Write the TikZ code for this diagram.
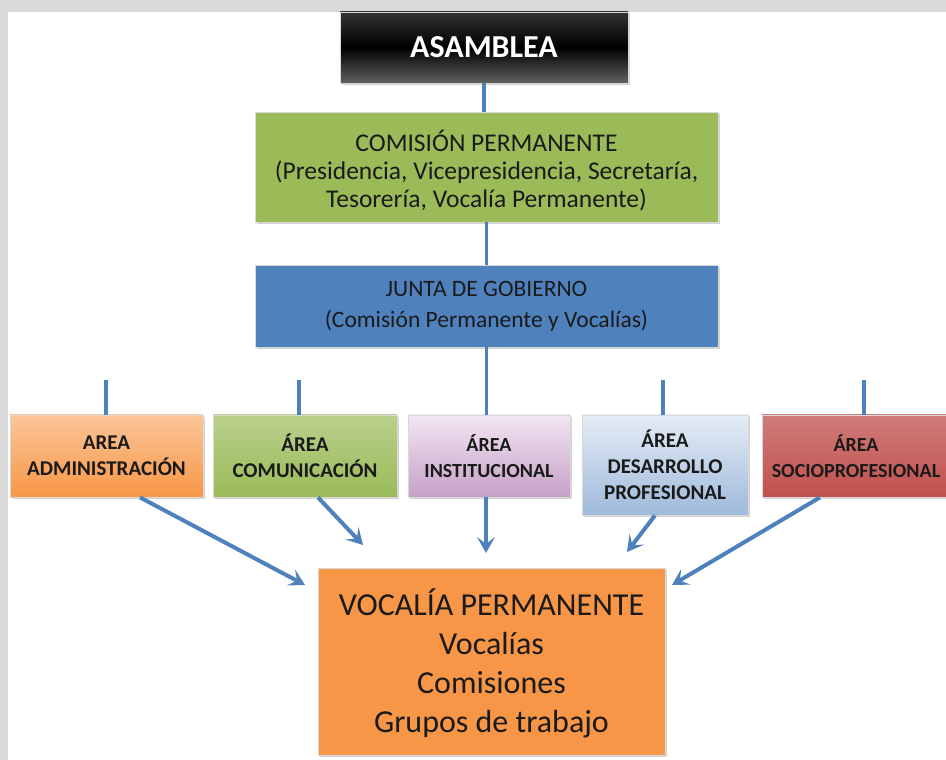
\documentclass[tikz,border=0pt]{standalone}
\usepackage{fontspec}
\setmainfont{Carlito}
\usetikzlibrary{arrows.meta,shadows}

\definecolor{fondo}{HTML}{D9D9D9}
\definecolor{azul}{HTML}{4F81BD}
\definecolor{verde}{HTML}{9BBB59}
\definecolor{naranja}{HTML}{F79646}
\definecolor{rojo}{HTML}{C0504D}
\definecolor{texto}{HTML}{1A1A1A}

% empuja el texto hacia abajo
\newcommand\bajar[1]{\rule{0pt}{#1}}

\tikzset{
  caja/.style={draw=white!85!black, line width=0.8pt, align=center, inner sep=0pt,
    text=texto, drop shadow={shadow xshift=2pt, shadow yshift=-2pt, fill=black!35}},
  area/.style={caja, minimum height=82pt, font=\fontsize{21}{26}\selectfont\bfseries},
  enlace/.style={draw=azul, line width=3.5pt},
  flecha/.style={draw=azul, line width=4pt, -{Stealth[length=16pt,width=18pt,inset=7pt]}}
}

\begin{document}
\begin{tikzpicture}[x=1pt,y=1pt]
\useasboundingbox (0,0) rectangle (946,760);
\fill[fondo] (0,0) rectangle (946,760);
\fill[white] (8,0) rectangle (946,748);

% niveles superiores
\node[caja, top color=black!80, bottom color=black!62, middle color=black, text=white,
  minimum width=288pt, minimum height=71pt, font=\fontsize{32}{36}\selectfont\bfseries]
  (asamblea) at (484,712.5) {ASAMBLEA};
\node[caja, fill=verde, minimum width=463pt, minimum height=110pt,
  font=\fontsize{25.5}{28}\selectfont] (comision) at (486.5,593)
  {\bajar{28pt}COMISIÓN PERMANENTE\\(Presidencia, Vicepresidencia, Secretaría,\\Tesorería, Vocalía Permanente)};
\node[caja, fill=azul, minimum width=463pt, minimum height=82pt,
  font=\fontsize{23.5}{31}\selectfont] (junta) at (486.5,454)
  {JUNTA DE GOBIERNO\\(Comisión Permanente y Vocalías)};

% areas
\node[area, top color=naranja!55, bottom color=naranja, minimum width=193pt] (admin) at (106.5,304)
  {AREA\\ADMINISTRACIÓN};
\node[area, top color=verde!70, bottom color=verde, minimum width=184pt] (comun) at (305,304)
  {ÁREA\\COMUNICACIÓN};
\node[area, top color=violet!10, bottom color=violet!35!white!85!gray, minimum width=162pt,
  font=\fontsize{20}{26}\selectfont\bfseries] (inst) at (489,304)
  {ÁREA\\INSTITUCIONAL};
\node[area, top color=azul!15, bottom color=azul!55, minimum width=166pt, minimum height=100pt] (desarr) at (665,295)
  {ÁREA\\DESARROLLO\\PROFESIONAL};
\node[area, top color=rojo!75, bottom color=rojo, minimum width=188pt,
  font=\fontsize{20}{26}\selectfont\bfseries] (socio) at (856,304)
  {ÁREA\\SOCIOPROFESIONAL};

\node[caja, fill=naranja, minimum width=347pt, minimum height=187pt,
  font=\fontsize{32}{39}\selectfont] (vocalia) at (491.5,98.5)
  {\bajar{30pt}VOCALÍA PERMANENTE\\Vocalías\\Comisiones\\Grupos de trabajo};

% enlaces verticales
\draw[enlace] (asamblea.south) -- (asamblea.south |- comision.north);
\draw[enlace] (comision.south) -- (junta.north);
\draw[enlace] (junta.south) -- (junta.south |- inst.north);
\draw[enlace] ([xshift=-0.5pt]admin.north) -- ++(0,35);
\draw[enlace] ([xshift=-6pt]comun.north) -- ++(0,35);
\draw[enlace] ([xshift=-2pt]desarr.north) -- ++(0,35);
\draw[enlace] ([xshift=8pt]socio.north) -- ++(0,35);

% flechas hacia la vocalia
\coordinate (pA) at (305,175);
\coordinate (pC) at (363,215);
\coordinate (pI) at (486,207);
\coordinate (pD) at (627,208);
\coordinate (pS) at (672,175);
\draw[flecha] ([xshift=33.5pt]admin.south) -- (pA);
\draw[flecha] ([xshift=13pt]comun.south) -- (pC);
\draw[flecha] ([xshift=-3pt]inst.south) -- (pI);
\draw[flecha] ([xshift=-10pt]desarr.south) -- (pD);
\draw[flecha] ([xshift=-36pt]socio.south) -- (pS);
\end{tikzpicture}
\end{document}
